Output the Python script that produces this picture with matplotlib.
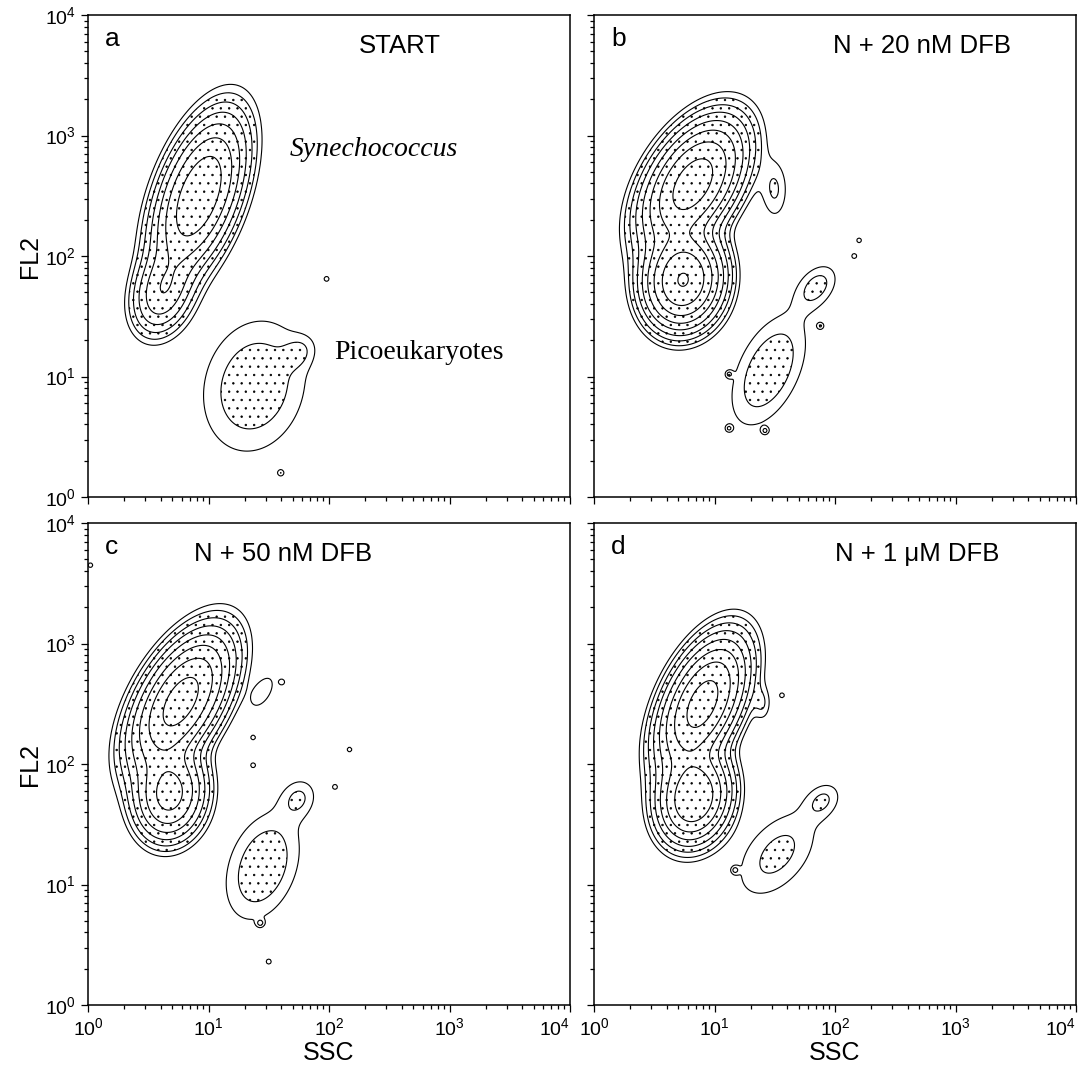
import numpy as np
import matplotlib
matplotlib.use("Agg")
import matplotlib.pyplot as plt
from matplotlib.ticker import LogLocator, NullFormatter

plt.rcParams["font.family"] = ["Liberation Sans", "DejaVu Sans"]
plt.rcParams["mathtext.fontset"] = "custom"
plt.rcParams["mathtext.rm"] = "Liberation Sans"
plt.rcParams["mathtext.it"] = "Liberation Sans:italic"
plt.rcParams["hatch.linewidth"] = 0.5
plt.rcParams["hatch.color"] = "black"

# ---- 等高线层级（相对密度，对数间隔） ----
LEVEL_STEP = 1.7
N_LEVELS = 9
DOT_FROM = 1          # 从第几层开始打点

# ---- 各群体：log10 空间里的椭圆团 (x, y, 长轴σ, 短轴σ, 角度deg, 峰值) ----
SYN_A = [(0.92, 2.50, 0.36, 0.16, 70, 38), (0.62, 1.70, 0.20, 0.13, 72, 12)]
PICO_A = [(1.38, 0.92, 0.40, 0.30, 75, 2.55), (1.75, 1.20, 0.10, 0.08, 45, 1.2)]
SPECK_A = [(1.98, 1.81), (1.60, 0.20)]

SYN_B = [(0.82, 2.60, 0.30, 0.17, 58, 55), (0.74, 1.80, 0.20, 0.16, 80, 72),
         (1.50, 2.55, 0.18, 0.08, 90, 1.8)]
PICO_B = [(1.45, 1.05, 0.35, 0.18, 65, 2.6), (1.85, 1.75, 0.15, 0.10, 50, 2.0)]
SPECK_B = [(2.16, 2.00), (2.20, 2.13), (1.12, 1.02), (1.88, 1.42), (1.12, 0.57), (1.42, 0.55)]

SYN_C = [(0.77, 2.52, 0.32, 0.16, 60, 52), (0.68, 1.75, 0.20, 0.15, 80, 30),
         (1.45, 2.60, 0.12, 0.06, 60, 1.6)]
PICO_C = [(1.45, 1.15, 0.33, 0.20, 70, 2.6), (1.75, 1.72, 0.12, 0.10, 60, 1.6)]
SPECK_C = [(1.50, 0.36), (1.37, 1.99), (1.37, 2.22), (2.17, 2.12), (2.05, 1.81),
           (1.61, 2.68), (1.43, 0.68), (0.02, 3.65)]

SYN_D = [(0.90, 2.50, 0.30, 0.15, 65, 52), (0.83, 1.72, 0.20, 0.15, 75, 40),
         (1.40, 2.50, 0.10, 0.05, 90, 1.5)]
PICO_D = [(1.52, 1.25, 0.32, 0.19, 50, 2.0), (1.90, 1.70, 0.12, 0.09, 45, 1.6)]
SPECK_D = [(1.17, 1.12), (1.56, 2.57)]

LETTERS = ["a", "b", "c", "d"]
TITLES = ["START", "N + 20 nM DFB", "N + 50 nM DFB", "N + 1 \u03bcM DFB"]
TITLE_X = [0.647, 0.68, 0.405, 0.67]
TICKS = [1, 10, 100, 1000, 10000]
TICK_LABELS = ["$10^{0}$", "$10^{1}$", "$10^{2}$", "$10^{3}$", "$10^{4}$"]


def density(LX, LY, comps):
    Z = np.zeros_like(LX)
    for cx, cy, sa, sb, ang, amp in comps:
        t = np.deg2rad(ang)
        dx, dy = LX - cx, LY - cy
        u = (dx * np.cos(t) + dy * np.sin(t)) / sa
        v = (-dx * np.sin(t) + dy * np.cos(t)) / sb
        Z += amp * np.exp(-0.5 * (u ** 2 + v ** 2))
    return Z


lg = np.linspace(0, 4, 321)
LX, LY = np.meshgrid(lg, lg)
X, Y = 10 ** LX, 10 ** LY
levels = LEVEL_STEP ** np.arange(N_LEVELS)

panels = [(SYN_A, PICO_A, SPECK_A), (SYN_B, PICO_B, SPECK_B),
          (SYN_C, PICO_C, SPECK_C), (SYN_D, PICO_D, SPECK_D)]

W, H = 1082, 1069
fig = plt.figure(figsize=(W / 100, H / 100), dpi=100)
lefts = [88, 594, 88, 594]
tops = [15, 15, 523, 523]
size = 482

for i, (syn, pico, specks) in enumerate(panels):
    ax = fig.add_axes([lefts[i] / W, 1 - (tops[i] + size) / H, size / W, size / H])
    comps = syn + pico + [(sx, sy, 0.022, 0.022, 0, 1.45) for sx, sy in specks]
    Z = density(LX, LY, comps)
    ax.contourf(X, Y, Z, levels=[levels[DOT_FROM], Z.max() + 1], colors="none", hatches=[".."])
    ax.contour(X, Y, Z, levels=levels, colors="k", linewidths=0.8)
    ax.set_xscale("log")
    ax.set_yscale("log")
    for sp in ax.spines.values():
        sp.set_linewidth(1.1)
    ax.set_xticks(TICKS, labels=TICK_LABELS)
    ax.set_yticks(TICKS, labels=TICK_LABELS)
    ax.xaxis.set_minor_locator(LogLocator(base=10, subs=np.arange(2, 10), numticks=10))
    ax.yaxis.set_minor_locator(LogLocator(base=10, subs=np.arange(2, 10), numticks=10))
    ax.xaxis.set_minor_formatter(NullFormatter())
    ax.yaxis.set_minor_formatter(NullFormatter())
    ax.set_xlim(1, 1e4)
    ax.set_ylim(1, 1e4)
    ax.tick_params(which="both", direction="out", top=False, right=False, width=0.9,
                   labelsize=14)
    ax.tick_params(which="major", length=5)
    ax.tick_params(which="minor", length=3)
    ax.get_xticklabels()[-1].set_horizontalalignment("right")
    if i < 2:
        ax.tick_params(labelbottom=False)
    else:
        ax.set_xlabel("SSC", fontsize=18, labelpad=2)
    if i % 2 == 1:
        ax.tick_params(labelleft=False)
    else:
        ax.set_ylabel("FL2", fontsize=18, labelpad=2)
    ax.text(0.035, 0.95, LETTERS[i], transform=ax.transAxes, fontsize=19, va="center")
    ax.text(TITLE_X[i], 0.935, TITLES[i], transform=ax.transAxes, fontsize=18.5,
            ha="center", va="center")
    if i == 0:
        ax.text(0.593, 0.72, "Synechococcus", transform=ax.transAxes, fontsize=20,
                family=["Liberation Serif"], style="italic", ha="center", va="center")
        ax.text(0.687, 0.30, "Picoeukaryotes", transform=ax.transAxes, fontsize=20,
                family=["Liberation Serif"], ha="center", va="center")

fig.savefig("out.png", dpi=100)
